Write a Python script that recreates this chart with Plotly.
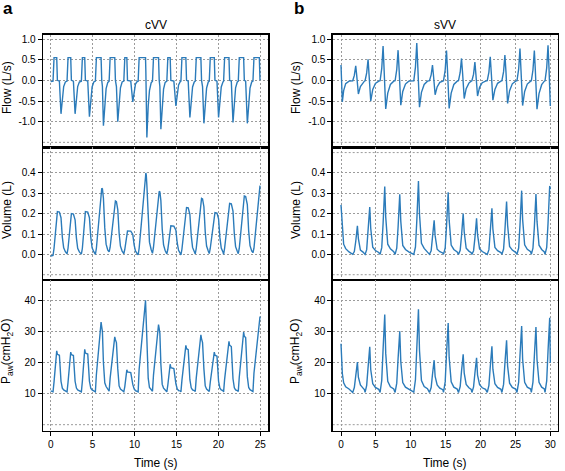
import plotly.graph_objects as go

# ---------------- data ----------------
# cVV (left column): time (s), flow (L/s), volume (L), airway pressure (cmH2O)
cvv_time = [
    0.00, 0.15,
    0.28, 0.40, 0.72, 0.80, 1.04, 1.23, 1.39, 1.55, 1.75,
    1.95, 2.07, 2.39, 2.47, 2.71, 2.91, 3.07, 3.22, 3.42,
    3.66, 3.78, 4.06, 4.14, 4.42, 4.62, 4.78, 4.94, 5.14,
    5.33, 5.45, 6.01, 6.09, 6.17, 6.29, 6.45, 6.61, 6.81,
    6.97, 7.09, 7.64, 7.72, 7.84, 8.00, 8.16, 8.32, 8.52,
    8.72, 8.84, 9.08, 9.16, 9.55, 9.79, 9.95, 10.11, 10.31,
    10.43, 10.55, 11.31, 11.35, 11.40, 11.47, 11.63, 11.78, 11.98,
    12.14, 12.26, 12.86, 12.94, 13.02, 13.14, 13.30, 13.46, 13.65,
    13.85, 13.97, 14.25, 14.33, 14.69, 14.93, 15.09, 15.25, 15.45,
    15.53, 15.65, 16.12, 16.20, 16.40, 16.60, 16.76, 16.92, 17.12,
    17.24, 17.36, 17.91, 17.99, 18.11, 18.27, 18.43, 18.59, 18.79,
    18.91, 19.03, 19.51, 19.59, 19.83, 20.02, 20.18, 20.34, 20.54,
    20.62, 20.74, 21.26, 21.34, 21.54, 21.74, 21.90, 22.05, 22.25,
    22.37, 22.49, 23.01, 23.09, 23.25, 23.45, 23.61, 23.77, 23.97,
    24.12, 24.24, 24.88, 24.96,
]
cvv_flow = [
    -0.03, -0.03,
    -0.02, 0.55, 0.55, 0.00, -0.02, -0.81, -0.36, -0.15, -0.04,
    -0.02, 0.55, 0.55, 0.00, -0.02, -0.81, -0.36, -0.15, -0.04,
    -0.02, 0.55, 0.55, 0.00, -0.02, -0.88, -0.40, -0.16, -0.04,
    -0.02, 0.55, 0.55, 0.00, -0.15, -1.10, -0.50, -0.20, -0.05,
    -0.02, 0.55, 0.55, 0.00, -0.15, -1.00, -0.45, -0.18, -0.04,
    -0.02, 0.55, 0.55, 0.00, -0.02, -0.52, -0.23, -0.09, -0.03,
    -0.02, 0.55, 0.55, 0.20, -0.50, -1.38, -0.62, -0.25, -0.06,
    -0.02, 0.55, 0.55, 0.00, -0.15, -1.18, -0.53, -0.21, -0.05,
    -0.02, 0.55, 0.55, 0.00, -0.02, -0.62, -0.28, -0.11, -0.03,
    -0.02, 0.55, 0.55, 0.00, -0.02, -0.90, -0.40, -0.16, -0.04,
    -0.02, 0.55, 0.55, 0.00, -0.15, -1.04, -0.47, -0.19, -0.04,
    -0.02, 0.55, 0.55, 0.00, -0.02, -0.90, -0.40, -0.16, -0.04,
    -0.02, 0.55, 0.55, 0.00, -0.02, -1.02, -0.46, -0.18, -0.04,
    -0.02, 0.55, 0.55, 0.00, -0.02, -1.04, -0.47, -0.19, -0.04,
    -0.02, 0.55, 0.55, 0.00,
]
cvv_volume = [
    -0.008, -0.006,
    -0.005, 0.030, 0.204, 0.210, 0.208, 0.180, 0.085, 0.032, 0.013,
    0.002, 0.030, 0.194, 0.200, 0.198, 0.170, 0.080, 0.030, 0.012,
    0.001, 0.030, 0.204, 0.210, 0.208, 0.180, 0.085, 0.032, 0.013,
    0.000, 0.030, 0.315, 0.325, 0.322, 0.276, 0.130, 0.050, 0.020,
    0.012, 0.035, 0.254, 0.262, 0.259, 0.220, 0.105, 0.040, 0.016,
    0.003, 0.025, 0.112, 0.115, 0.114, 0.098, 0.046, 0.017, 0.004,
    -0.003, 0.030, 0.390, 0.400, 0.390, 0.340, 0.160, 0.060, 0.024,
    0.005, 0.035, 0.300, 0.310, 0.307, 0.264, 0.124, 0.046, 0.019,
    0.002, 0.025, 0.136, 0.140, 0.139, 0.119, 0.056, 0.020, 0.005,
    -0.003, 0.025, 0.223, 0.230, 0.228, 0.196, 0.092, 0.034, 0.014,
    0.002, 0.030, 0.267, 0.275, 0.272, 0.234, 0.110, 0.041, 0.017,
    0.004, 0.030, 0.199, 0.205, 0.203, 0.174, 0.082, 0.031, 0.012,
    0.000, 0.030, 0.243, 0.250, 0.248, 0.213, 0.100, 0.038, 0.015,
    0.003, 0.030, 0.278, 0.287, 0.284, 0.244, 0.115, 0.043, 0.017,
    0.008, 0.030, 0.330, 0.338,
]
cvv_paw = [
    10.9, 10.8,
    10.6, 13.8, 23.8, 22.7, 22.4, 14.0, 11.8, 11.2, 11.0,
    10.6, 13.7, 23.4, 22.6, 22.3, 14.0, 11.8, 11.2, 11.0,
    10.6, 14.0, 24.3, 23.1, 22.8, 14.0, 11.8, 11.2, 11.0,
    10.6, 16.2, 33.1, 31.5, 30.0, 20.0, 13.5, 12.3, 11.5,
    10.8, 15.0, 28.3, 27.4, 26.5, 18.0, 12.5, 11.5, 11.1,
    10.6, 12.3, 17.7, 17.0, 16.8, 13.0, 11.5, 11.0, 10.9,
    10.6, 17.9, 40.1, 37.0, 33.0, 27.0, 15.0, 12.0, 11.3,
    10.8, 16.0, 32.3, 31.0, 29.5, 19.5, 13.0, 11.8, 11.2,
    10.6, 12.8, 19.5, 18.4, 18.1, 13.2, 11.5, 11.0, 10.9,
    10.6, 14.3, 25.6, 24.5, 24.2, 14.5, 11.9, 11.2, 11.0,
    10.7, 15.1, 29.0, 27.7, 26.5, 18.0, 12.5, 11.5, 11.1,
    10.7, 13.7, 23.4, 22.4, 22.1, 14.0, 11.8, 11.2, 11.0,
    10.6, 14.6, 26.9, 25.6, 25.2, 14.8, 11.9, 11.2, 11.0,
    10.7, 15.4, 29.9, 28.5, 28.1, 15.5, 12.0, 11.3, 11.0,
    10.7, 16.6, 34.8, 34.9,
]

# sVV (right column)
svv_time = [
    0.00, 0.19, 0.38, 0.67, 1.15,
    1.68, 1.91, 2.11, 2.25, 2.35, 2.49, 2.78, 3.16, 3.35,
    3.45, 3.68, 3.88, 4.02, 4.12, 4.26, 4.55, 4.93, 5.41,
    5.60, 5.84, 6.03, 6.17, 6.27, 6.41, 6.70, 7.08, 7.56,
    7.75, 7.99, 8.18, 8.33, 8.42, 8.57, 8.85, 9.24, 9.71,
    10.43, 10.67, 10.86, 11.01, 11.10, 11.25, 11.53, 11.92, 12.39,
    12.68, 12.92, 13.11, 13.25, 13.35, 13.49, 13.78, 14.16, 14.59,
    14.69, 14.93, 15.12, 15.26, 15.36, 15.50, 15.79, 16.17, 16.65,
    16.84, 17.08, 17.27, 17.42, 17.51, 17.66, 17.94, 18.33, 18.66,
    18.76, 19.00, 19.19, 19.33, 19.43, 19.57, 19.86, 20.24, 20.72,
    20.96, 21.20, 21.39, 21.53, 21.63, 21.77, 22.06, 22.44, 22.92,
    23.06, 23.30, 23.49, 23.64, 23.73, 23.88, 24.16, 24.55, 25.03,
    25.22, 25.46, 25.65, 25.79, 25.89, 26.03, 26.32, 26.70, 27.18,
    27.28, 27.51, 27.71, 27.85, 27.94, 28.09, 28.38, 28.76, 29.14,
    29.24, 29.48, 29.67, 29.81, 29.91, 30.00,
]
svv_flow = [
    0.37, -0.52, -0.25, -0.08, -0.02,
    -0.01, 0.12, 0.35, 0.12, -0.10, -0.33, -0.15, -0.05, -0.02,
    -0.01, 0.18, 0.51, 0.18, -0.15, -0.50, -0.22, -0.075, -0.02,
    -0.01, 0.29, 0.83, 0.29, -0.21, -0.69, -0.31, -0.10, -0.02,
    -0.01, 0.26, 0.73, 0.26, -0.18, -0.60, -0.27, -0.09, -0.02,
    -0.01, 0.32, 0.90, 0.32, -0.20, -0.65, -0.29, -0.10, -0.02,
    -0.01, 0.13, 0.37, 0.13, -0.10, -0.35, -0.16, -0.05, -0.02,
    -0.01, 0.25, 0.72, 0.25, -0.20, -0.68, -0.31, -0.10, -0.02,
    -0.01, 0.19, 0.53, 0.19, -0.13, -0.44, -0.20, -0.066, -0.02,
    -0.01, 0.15, 0.44, 0.15, -0.11, -0.38, -0.17, -0.057, -0.02,
    -0.01, 0.20, 0.57, 0.20, -0.14, -0.48, -0.22, -0.072, -0.02,
    -0.01, 0.21, 0.61, 0.21, -0.17, -0.56, -0.25, -0.084, -0.02,
    -0.01, 0.27, 0.77, 0.27, -0.18, -0.61, -0.27, -0.09, -0.02,
    -0.01, 0.25, 0.72, 0.25, -0.21, -0.70, -0.32, -0.105, -0.02,
    -0.01, 0.30, 0.85, 0.30, -0.19, -0.62,
]
svv_volume = [
    0.243, 0.120, 0.050, 0.028, 0.012,
    0.000, 0.014, 0.063, 0.119, 0.140, 0.077, 0.021, 0.011, 0.006,
    0.000, 0.023, 0.105, 0.198, 0.233, 0.128, 0.035, 0.019, 0.009,
    0.000, 0.033, 0.150, 0.283, 0.333, 0.183, 0.050, 0.027, 0.013,
    0.000, 0.030, 0.133, 0.251, 0.295, 0.162, 0.044, 0.024, 0.012,
    0.000, 0.036, 0.162, 0.306, 0.360, 0.198, 0.054, 0.029, 0.014,
    0.000, 0.017, 0.075, 0.142, 0.167, 0.092, 0.025, 0.013, 0.007,
    0.000, 0.031, 0.137, 0.259, 0.305, 0.168, 0.046, 0.024, 0.012,
    0.000, 0.020, 0.090, 0.170, 0.200, 0.110, 0.030, 0.016, 0.008,
    0.000, 0.018, 0.080, 0.150, 0.177, 0.097, 0.027, 0.014, 0.007,
    0.000, 0.023, 0.102, 0.192, 0.226, 0.124, 0.034, 0.018, 0.009,
    0.000, 0.026, 0.117, 0.221, 0.260, 0.143, 0.039, 0.021, 0.010,
    0.000, 0.031, 0.141, 0.266, 0.313, 0.172, 0.047, 0.025, 0.013,
    0.000, 0.030, 0.134, 0.252, 0.297, 0.163, 0.045, 0.024, 0.012,
    0.000, 0.034, 0.151, 0.286, 0.336, 0.320,
]
svv_paw = [
    26.1, 16.5, 13.5, 12.2, 11.5,
    10.4, 12.0, 15.8, 19.2, 20.2, 15.3, 12.8, 11.8, 11.3,
    10.4, 12.7, 18.5, 23.6, 25.1, 17.8, 13.2, 12.0, 11.4,
    10.4, 14.3, 24.3, 33.0, 35.5, 23.0, 14.0, 12.2, 11.5,
    10.4, 13.4, 21.3, 28.1, 30.1, 20.3, 13.6, 12.1, 11.5,
    10.5, 14.5, 25.2, 34.5, 37.2, 23.9, 14.2, 12.3, 11.6,
    10.4, 12.0, 16.2, 19.8, 20.8, 15.6, 12.8, 11.8, 11.3,
    10.4, 13.8, 22.8, 30.6, 32.8, 21.7, 13.8, 12.1, 11.5,
    10.4, 12.3, 17.2, 21.5, 22.7, 16.6, 13.0, 11.9, 11.4,
    10.4, 12.2, 16.6, 20.5, 21.6, 16.0, 12.9, 11.9, 11.4,
    10.4, 12.7, 18.6, 23.8, 25.3, 17.9, 13.2, 12.0, 11.4,
    10.4, 13.0, 19.7, 25.5, 27.2, 18.9, 13.4, 12.0, 11.5,
    10.4, 13.7, 22.2, 29.7, 31.8, 21.2, 13.7, 12.1, 11.5,
    10.4, 13.7, 22.1, 29.4, 31.5, 21.0, 13.7, 12.1, 11.5,
    10.4, 14.1, 23.7, 32.1, 34.5, 20.0,
]

# tick values / labels
flow_ticks = [-1.0, -0.5, 0.0, 0.5, 1.0]
flow_ticktext = ["-1.0", "-0.5", "0.0", "0.5", "1.0"]
vol_ticks = [0.0, 0.1, 0.2, 0.3, 0.4]
vol_ticktext = ["0.0", "0.1", "0.2", "0.3", "0.4"]
paw_ticks = [10, 20, 30, 40]
paw_ticktext = ["10", "20", "30", "40"]
cvv_xticks = [0, 5, 10, 15, 20, 25]
svv_xticks = [0, 5, 10, 15, 20, 25, 30]

# ---------------- layout helpers ----------------
W, H = 565, 471
FONT = "Liberation Sans, Arial, Helvetica, sans-serif"
LINE = "#2b7bba"
GRID = "#9b9b9b"
DASH = "2px,2px"


def px(x):
    return x / W


def py(y):
    return 1 - y / H


left_dom = [px(43), px(268.3)]
right_dom = [px(332.7), px(558)]
flow_dom = [py(147.3), py(34.5)]
vol_dom = [py(280), py(147.3)]
paw_dom = [py(431), py(280)]

fig = go.Figure()

panels = [
    ("x", "y", cvv_time, cvv_flow),
    ("x2", "y2", cvv_time, cvv_volume),
    ("x3", "y3", cvv_time, cvv_paw),
    ("x4", "y4", svv_time, svv_flow),
    ("x5", "y5", svv_time, svv_volume),
    ("x6", "y6", svv_time, svv_paw),
]
for xa, ya, xd, yd in panels:
    fig.add_trace(go.Scatter(x=xd, y=yd, mode="lines", xaxis=xa, yaxis=ya,
                             line=dict(color=LINE, width=1.4), showlegend=False,
                             hoverinfo="skip"))

common_axis = dict(showline=True, linecolor="black", linewidth=1.3, mirror=True,
                   showgrid=True, gridcolor=GRID, gridwidth=1, griddash=DASH,
                   zeroline=False, tickfont=dict(family=FONT, size=10, color="black"),
                   tickcolor="black", ticklen=4, tickwidth=1)

layout = dict(width=W, height=H, margin=dict(l=0, r=0, t=0, b=0),
              paper_bgcolor="white", plot_bgcolor="white", showlegend=False,
              font=dict(family=FONT, color="black", size=12))

xr_left = [-0.916, 25.95]
xr_right = [-1.19, 31.1]
yr_flow = [-1.62, 1.109]
yr_vol = [-0.126, 0.526]
yr_paw = [-2.04, 46.67]

specs = [
    (1, left_dom, flow_dom, xr_left, yr_flow, cvv_xticks, flow_ticks, flow_ticktext, False),
    (2, left_dom, vol_dom, xr_left, yr_vol, cvv_xticks, vol_ticks, vol_ticktext, False),
    (3, left_dom, paw_dom, xr_left, yr_paw, cvv_xticks, paw_ticks, paw_ticktext, True),
    (4, right_dom, flow_dom, xr_right, yr_flow, svv_xticks, flow_ticks, flow_ticktext, False),
    (5, right_dom, vol_dom, xr_right, yr_vol, svv_xticks, vol_ticks, vol_ticktext, False),
    (6, right_dom, paw_dom, xr_right, yr_paw, svv_xticks, paw_ticks, paw_ticktext, True),
]
for i, xd, yd, xr, yr, xt, yt, ytt, bottom in specs:
    sfx = "" if i == 1 else str(i)
    xaxis = dict(common_axis, domain=xd, range=xr, anchor="y" + sfx,
                 tickvals=xt, ticktext=[str(v) for v in xt],
                 showticklabels=bottom, ticks="outside" if bottom else "")
    yaxis = dict(common_axis, domain=yd, range=yr, anchor="x" + sfx,
                 tickvals=yt, ticktext=ytt, ticks="outside")
    layout["xaxis" + sfx] = xaxis
    layout["yaxis" + sfx] = yaxis

fig.update_layout(**layout)

# extra unlabeled dashed grid lines
extra = [("y", -1.5), ("y4", -1.5), ("y2", -0.1), ("y2", 0.5), ("y5", -0.1), ("y5", 0.5),
         ("y3", 0), ("y6", 0)]
pair = {"y": "x", "y2": "x2", "y3": "x3", "y4": "x4", "y5": "x5", "y6": "x6"}
for yref, val in extra:
    fig.add_shape(type="line", xref=pair[yref] + " domain", yref=yref, x0=0, x1=1,
                  y0=val, y1=val, line=dict(color=GRID, width=1, dash=DASH), layer="below")


def ann(text, x, y, size=12, angle=0, bold=False):
    fig.add_annotation(text=("<b>%s</b>" % text) if bold else text,
                       x=px(x), y=py(y), xref="paper", yref="paper",
                       showarrow=False, textangle=angle, xanchor="center", yanchor="middle",
                       font=dict(family=FONT, size=size, color="black"))


ann("a", 8, 9, size=17, bold=True)
ann("b", 299, 9, size=17, bold=True)
ann("cVV", 155.6, 25, size=12)
ann("sVV", 445.3, 25, size=12)
for xx in (7, 296):
    ann("Flow (L/s)", xx, 88, size=12, angle=-90)
    ann("Volume (L)", xx, 210, size=12, angle=-90)
    ann("P<sub>aw</sub>(cmH<sub>2</sub>O)", xx, 352, size=12, angle=-90)
ann("Time (s)", 155.6, 463, size=12)
ann("Time (s)", 445.3, 463, size=12)

fig.write_html("out.html",
               config={"displayModeBar": False, "staticPlot": True},
               post_script="document.body.style.margin='0';document.body.style.padding='0';"
                           "document.documentElement.style.overflow='hidden';")
